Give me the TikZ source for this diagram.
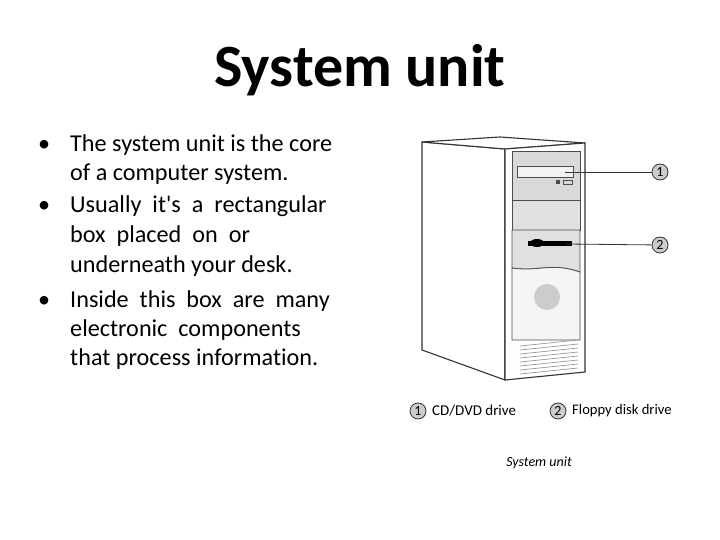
\documentclass[tikz,border=0pt]{standalone}
\usepackage{fontspec}
\setmainfont{Carlito}[Ligatures={TeXOff,CommonOff}]
\begin{document}
\begin{tikzpicture}[x=1pt,y=-1pt,
  body/.style={font=\fontsize{24.2}{28}\selectfont,anchor=base west,inner sep=0},
  edge/.style={draw=black!80,line width=1.1pt},
  num/.style={circle,draw=black!80,fill=black!20,line width=0.8pt,inner sep=0,minimum size=16pt,font=\fontsize{14}{15}\selectfont}]
\useasboundingbox (0,0) rectangle (720,540);
\node[font=\bfseries\fontsize{60}{66}\selectfont] (title) at (360,70) {System unit};
% bullets
\foreach \y/\t/\b [count=\i] in {152/The system unit is the core/1, 181/of a computer system./0, 213/Usually\ \ it's\ \ a\ \ rectangular/1, 243/box\ \ placed\ \ on\ \ or/0, 272/underneath your desk./0, 307/Inside\ \ this\ \ box\ \ are\ \ many/1, 336/electronic\ \ components/0, 365/that process information./0}{
  \node[body] (t\i) at (70,\y) {\t};
  \ifnum\b=1 \node[body] (b\i) at (38,\y) {•};\fi
}
% case
\draw[edge,fill=white] (422,142) -- (505,149) -- (505,380) -- (422,350) -- cycle;
\draw[edge,fill=white] (422,142) -- (505,149) -- (585,143) -- (500,137) -- cycle;
\draw[edge,fill=white] (505,149) -- (585,143) -- (585,372) -- (505,380) -- cycle;
\draw[black!70,line width=0.8pt,fill=black!15] (512,151) rectangle (580,200);
\draw[black!70,line width=0.8pt,fill=black!12] (512,200) rectangle (580,230);
\draw[black!70,line width=0.8pt,fill=black!12] (512,230) -- (580,230) -- (580,272) .. controls (550,262) and (540,272) .. (512,268) -- cycle;
\draw[black!70,line width=0.8pt,fill=black!4] (512,268) .. controls (540,272) and (550,262) .. (580,272) -- (580,340) -- (512,340) -- cycle;
\fill[black!20] (547,297) circle (13);
\foreach \y in {343,347,...,371}{\draw[black!40,line width=0.7pt] (520,\y+3) -- (578,\y-3);}
\draw[black!70,fill=black!5] (517,166) rectangle (573,177);
\fill[black!70] (556,180) rectangle (560,184);
\draw[black!70] (563,180) rectangle (572,184);
\fill[black] (528,241) rectangle (572,246);
\fill[black] (537,243) ellipse (7 and 4);
\node[num] (n1) at (660,172) {1};
\node[num] (n2) at (660,245) {2};
\coordinate (s1) at (565,172);
\coordinate (s2) at (566,244);
\draw[black!80,line width=0.8pt] (s1) -- (n1);
\draw[black!80,line width=0.8pt] (s2) -- (n2);
% legend
\node[num] (l1) at (418,411) {1};
\node[anchor=west,font=\fontsize{15}{16}\selectfont,inner sep=0] (c1) at (432,411) {CD/DVD drive};
\node[num] (l2) at (558,411) {2};
\node[anchor=west,font=\fontsize{14.6}{16}\selectfont,inner sep=0] (c2) at (572,411) {Floppy disk drive};
\node[font=\itshape\fontsize{14}{16}\selectfont] (cap) at (539,463) {System unit};
\end{tikzpicture}
\end{document}
